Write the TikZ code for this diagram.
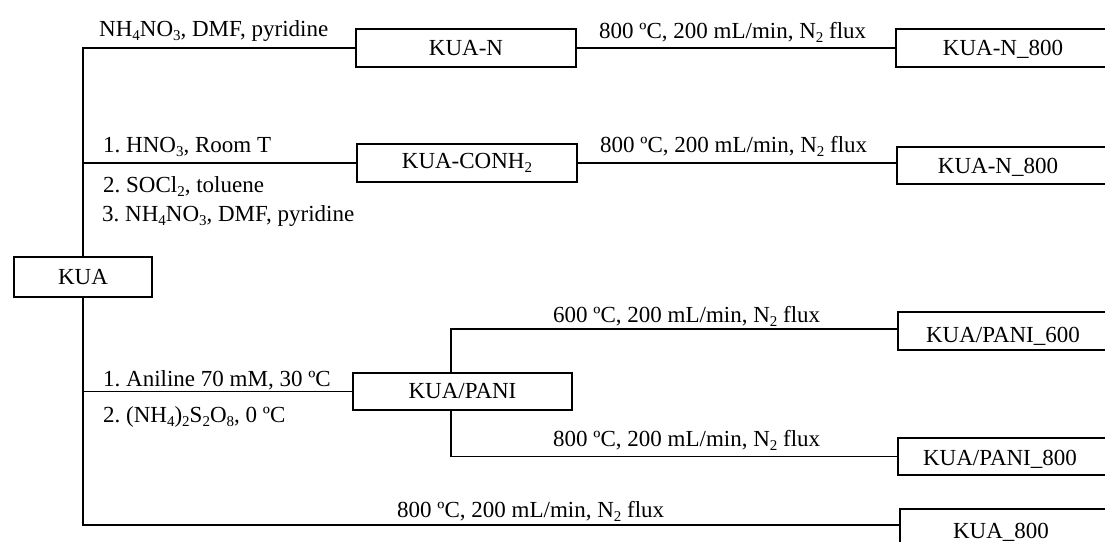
\documentclass[tikz,border=0pt]{standalone}
\usepackage{fontspec}
\setmainfont{Liberation Serif}
\frenchspacing
\newcommand\sbs[1]{\raisebox{-4.5pt}{\fontsize{15}{15}\selectfont #1}}
\begin{document}
\begin{tikzpicture}[x=1pt,y=-1pt,
  txt/.style={font=\fontsize{23}{27}\selectfont},
  box/.style={draw,line width=1.3pt,rectangle,inner sep=0pt,txt},
  lab/.style={anchor=base west,inner sep=0pt,txt},
  btxt/.style={anchor=base,inner sep=0pt,txt},
  conn/.style={line width=1.4pt}]
\useasboundingbox (0,0) rectangle (1105,541);
\clip (0,0) rectangle (1105,541);
% boxes
\node[box,minimum width=138pt,minimum height=40pt] (KUA) at (83,277) {KUA};
\node[box,minimum width=220pt,minimum height=38pt] (KUAN) at (466,48) {KUA-N};
\node[box,minimum width=240pt,minimum height=38pt] (N8a) at (1016,48) {};
\node[box,minimum width=220pt,minimum height=38pt] (CONH) at (467,163) {KUA-CONH\sbs{2}};
\node[box,minimum width=240pt,minimum height=37pt] (N8b) at (1017,165.5) {};
\node[box,minimum width=219pt,minimum height=37pt,text width=205pt,align=center] (PANI) at (462.5,391.5) {KUA/PANI\hspace*{12pt}};
\node[box,minimum width=240pt,minimum height=38pt] (P600) at (1018,331) {};
\node[box,minimum width=240pt,minimum height=37pt] (P800) at (1018,456.5) {};
\node[box,minimum width=240pt,minimum height=46pt] (K800) at (1020,532) {};
% texts of the cut boxes
\node[btxt] (tN8a) at (1003,55) {KUA-N\_800};
\node[btxt] (tN8b) at (998,173) {KUA-N\_800};
\node[btxt] (tP600) at (1003,342) {KUA/PANI\_600};
\node[btxt] (tP800) at (1000,465) {KUA/PANI\_800};
\node[btxt] (tK800) at (1001,538) {KUA\_800};
% connectors
\coordinate (k8in) at (900,525);
\coordinate (pb) at (451,391.5);
\draw[conn] (KUA.north) |- (KUAN.west);
\draw[conn] (KUAN.east) -- (KUAN.east -| N8a.west);
\draw[conn] (KUA.north |- CONH.west) -- (CONH.west);
\draw[conn] (CONH.east) -- (CONH.east -| N8b.west);
\draw[conn] (KUA.south) |- (PANI.west);
\draw[conn] (KUA.south) |- (k8in);
\draw[conn] (pb |- PANI.north) |- ([yshift=2pt]P600.west);
\draw[conn] (pb |- PANI.south) |- (P800.west);
% labels
\node[lab] (l1) at (99,36) {NH\sbs{4}NO\sbs{3}, DMF, pyridine};
\node[lab] (l2) at (599,38) {800 ºC, 200 mL/min, N\sbs{2} flux};
\node[lab] (l3) at (103,152) {1. HNO\sbs{3}, Room T};
\node[lab] (l4) at (600,152) {800 ºC, 200 mL/min, N\sbs{2} flux};
\node[lab] (l5) at (103,192) {2. SOCl\sbs{2}, toluene};
\node[lab] (l6) at (102,221) {3. NH\sbs{4}NO\sbs{3}, DMF, pyridine};
\node[lab] (l7) at (103,386) {1. Aniline 70 mM, 30 ºC};
\node[lab] (l8) at (103,422) {2. (NH\sbs{4})\sbs{2}S\sbs{2}O\sbs{8}, 0 ºC};
\node[lab] (l9) at (553,322) {600 ºC, 200 mL/min, N\sbs{2} flux};
\node[lab] (l10) at (553,446) {800 ºC, 200 mL/min, N\sbs{2} flux};
\node[lab] (l11) at (397,517) {800 ºC, 200 mL/min, N\sbs{2} flux};
\end{tikzpicture}
\end{document}
